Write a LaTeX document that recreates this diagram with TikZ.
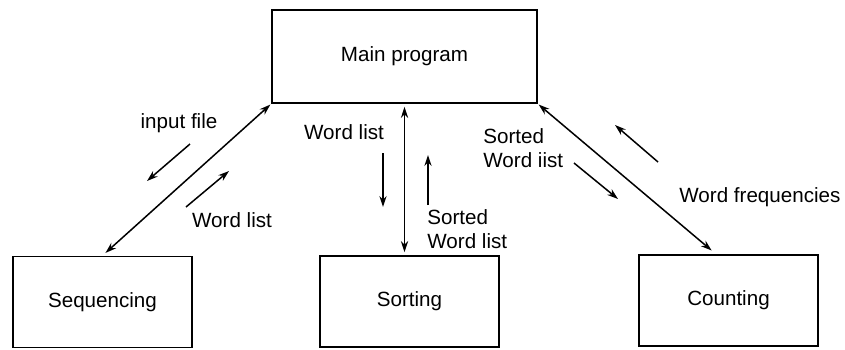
\documentclass[tikz,border=0pt]{standalone}
\usepackage{fontspec}
\setmainfont{Liberation Sans}
\usetikzlibrary{arrows.meta}
\begin{document}
\begin{tikzpicture}[x=0.5pt,y=-0.5pt,
  txt/.style={font=\fontsize{10.3pt}{11.8pt}\selectfont},
  box/.style={txt,draw,line width=0.9pt,minimum width=89.5pt,minimum height=45.5pt,inner sep=0pt},
  lbl/.style={txt,inner sep=0pt,align=left},
  link/.style={line width=0.75pt,{Stealth[length=5.5pt,width=3.6pt]}-{Stealth[length=5.5pt,width=3.6pt]}},
  flow/.style={line width=0.75pt,-{Stealth[length=5.5pt,width=3.6pt]}}]
\useasboundingbox (0,0) rectangle (845,349);

% modules
\node[box,minimum width=132.5pt,minimum height=46.5pt] (main) at (404.5,56.5) {Main program};
\node[box] (seq)  at (102.5,302)   {Sequencing};
\node[box] (sort) at (409.5,301.5) {Sorting};
\node[box] (cnt)  at (728.5,300.5) {Counting};

% calls between the main program and the modules
\coordinate (cin) at (717,255);
\draw[link,shorten <=2pt,shorten >=0.5pt] (seq.north) -- (main.south west);
\draw[link,shorten <=1.5pt,shorten >=1.5pt] (main.south) -- (main.south |- sort.north);
\draw[link,shorten <=0.5pt,shorten >=3.5pt] (main.south east) -- (cin);

% data flow arrows
\coordinate (a1s) at (190,144); \coordinate (a1e) at (147,181);
\coordinate (a2s) at (186,207); \coordinate (a2e) at (229,171);
\coordinate (a3s) at (383,153); \coordinate (a3e) at (383,207);
\coordinate (a4s) at (428,205); \coordinate (a4e) at (428,155);
\coordinate (a5s) at (574,163); \coordinate (a5e) at (618,199);
\coordinate (a6s) at (658,162); \coordinate (a6e) at (615,125);
\draw[flow] (a1s) -- (a1e);
\draw[flow] (a2s) -- (a2e);
\draw[flow] (a3s) -- (a3e);
\draw[flow] (a4s) -- (a4e);
\draw[flow] (a5s) -- (a5e);
\draw[flow] (a6s) -- (a6e);

% labels (base of a two-line label is its last line)
\node[lbl,anchor=base] (l1) at (179,128) {input file};
\node[lbl,anchor=base] (l2) at (232,227) {Word list};
\node[lbl,anchor=base] (l3) at (344,139) {Word list};
\node[lbl,anchor=base west] (l4) at (427,248) {Sorted\\Word list};
\node[lbl,anchor=base west] (l5) at (483,167) {Sorted\\Word iist};
\node[lbl,anchor=base west] (l6) at (679,202) {Word frequencies};
\end{tikzpicture}
\end{document}
